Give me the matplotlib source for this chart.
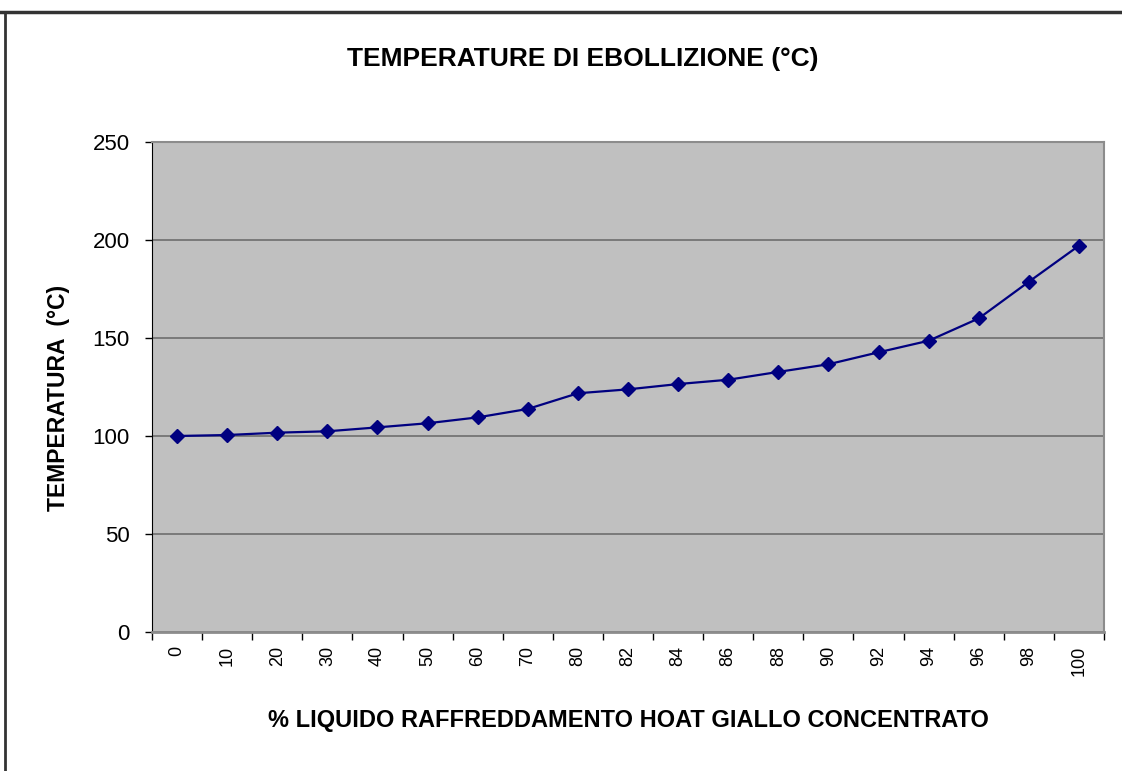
import numpy as np
import matplotlib.pyplot as plt
from matplotlib.lines import Line2D

# % concentrate and boiling temperature (°C)
percent_labels = ['0', '10', '20', '30', '40', '50', '60', '70', '80', '82',
                  '84', '86', '88', '90', '92', '94', '96', '98', '100']
temperatures = [100, 100.5, 101.7, 102.4, 104.4, 106.5, 109.5, 113.8, 121.8, 123.8,
                126.5, 128.7, 132.7, 136.6, 142.7, 148.6, 160, 178.7, 197.1]
y_ticks = [0, 50, 100, 150, 200, 250]

plt.rcParams['font.family'] = ['Liberation Sans', 'DejaVu Sans']

fig = plt.figure(figsize=(11.22, 7.71), dpi=100)
ax = fig.add_axes([152 / 1122, 1 - 632 / 771, (1104 - 152) / 1122, (632 - 142) / 771])
ax.set_facecolor('#c0c0c0')

x = np.arange(len(temperatures))
ax.plot(x, temperatures, color='#000080', linewidth=1.6, marker='D', markersize=7,
        markerfacecolor='#000080', markeredgecolor='#000080', zorder=3)

ax.set_xlim(-0.5, len(temperatures) - 0.5)
ax.set_ylim(0, 250)
ax.set_yticks(y_ticks)
ax.yaxis.grid(True, color='#6e6e6e', linewidth=1.2)
ax.set_axisbelow(True)

ax.set_xticks(x)
ax.set_xticklabels(percent_labels, rotation=90, fontsize=13)
ax.tick_params(axis='x', which='major', length=0, pad=10)
ax.set_xticks(np.arange(-0.5, len(temperatures)), minor=True)
ax.tick_params(axis='x', which='minor', length=6, width=1, color='black', direction='out')
ax.tick_params(axis='y', length=5, width=1, direction='out', labelsize=16, pad=11)

for side in ['top', 'right']:
    ax.spines[side].set_color('#8c8c8c')
    ax.spines[side].set_linewidth(1.5)
ax.spines['left'].set_color('black')
ax.spines['bottom'].set_color('#8c8c8c')
ax.spines['bottom'].set_linewidth(2)

fig.text(583 / 1122, 1 - 59 / 771, 'TEMPERATURE DI EBOLLIZIONE (°C)', ha='center', va='center',
         fontsize=19, fontweight='bold')
fig.text(628 / 1122, 1 - 720 / 771, '% LIQUIDO RAFFREDDAMENTO HOAT GIALLO CONCENTRATO',
         ha='center', va='center', fontsize=17, fontweight='bold')
fig.text(58 / 1122, 1 - 398 / 771, 'TEMPERATURA  (°C)', rotation=90, ha='center', va='center',
         fontsize=16.5, fontweight='bold')

# chart area border (cropped: only top and left visible)
fig.add_artist(Line2D([0, 1], [1 - 12 / 771, 1 - 12 / 771], transform=fig.transFigure,
                      color='#333333', linewidth=2.5))
fig.add_artist(Line2D([5 / 1122, 5 / 1122], [0, 1 - 12 / 771], transform=fig.transFigure,
                      color='#333333', linewidth=2))

fig.savefig('out.png', dpi=100)
